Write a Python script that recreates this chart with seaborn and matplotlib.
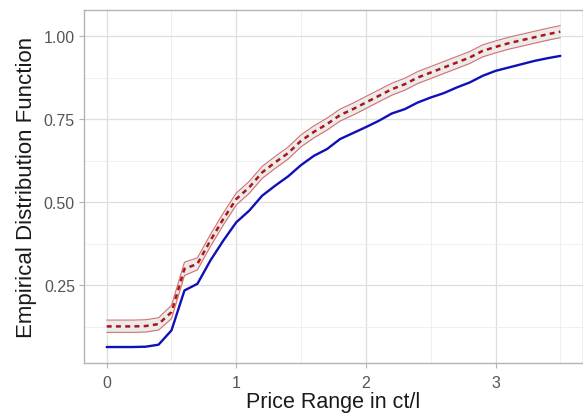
import numpy as np
import pandas as pd
import matplotlib
matplotlib.use("Agg")
import matplotlib.pyplot as plt
import seaborn as sns
from matplotlib.ticker import FixedLocator

price = [0.0, 0.1, 0.2, 0.3, 0.4, 0.5, 0.6, 0.7, 0.8, 0.9,
         1.0, 1.1, 1.2, 1.3, 1.4, 1.5, 1.6, 1.7, 1.8, 1.9,
         2.0, 2.1, 2.2, 2.3, 2.4, 2.5, 2.6, 2.7, 2.8, 2.9,
         3.0, 3.1, 3.2, 3.3, 3.4, 3.5]
ecdf_obs = [0.065, 0.065, 0.065, 0.066, 0.072, 0.115, 0.235, 0.255, 0.325, 0.385,
            0.44, 0.475, 0.52, 0.55, 0.578, 0.612, 0.64, 0.66, 0.69, 0.708,
            0.726, 0.745, 0.767, 0.78, 0.80, 0.815, 0.828, 0.845, 0.86, 0.88,
            0.895, 0.905, 0.915, 0.925, 0.933, 0.94]
ecdf_sim = [0.127, 0.127, 0.127, 0.128, 0.134, 0.17, 0.30, 0.315, 0.385, 0.45,
            0.51, 0.545, 0.59, 0.62, 0.648, 0.685, 0.712, 0.735, 0.762, 0.78,
            0.80, 0.82, 0.84, 0.855, 0.875, 0.89, 0.905, 0.92, 0.935, 0.955,
            0.967, 0.978, 0.987, 0.996, 1.005, 1.013]
sim_lower = [0.109, 0.109, 0.109, 0.110, 0.116, 0.150, 0.280, 0.297, 0.367, 0.432,
             0.492, 0.527, 0.572, 0.602, 0.630, 0.667, 0.694, 0.717, 0.744, 0.762,
             0.782, 0.802, 0.822, 0.837, 0.857, 0.872, 0.887, 0.902, 0.917, 0.937,
             0.949, 0.960, 0.969, 0.978, 0.987, 0.995]
sim_upper = [0.146, 0.146, 0.146, 0.147, 0.153, 0.190, 0.320, 0.333, 0.403, 0.468,
             0.528, 0.563, 0.608, 0.638, 0.666, 0.703, 0.730, 0.753, 0.780, 0.798,
             0.818, 0.838, 0.858, 0.873, 0.893, 0.908, 0.923, 0.938, 0.953, 0.973,
             0.985, 0.996, 1.005, 1.014, 1.023, 1.031]
x_ticks = [0, 1, 2, 3]
y_ticks = [0.25, 0.50, 0.75, 1.00]
y_tick_labels = ["0.25", "0.50", "0.75", "1.00"]

df = pd.DataFrame({"price": price, "obs": ecdf_obs, "sim": ecdf_sim,
                   "lo": sim_lower, "hi": sim_upper})

sns.set_theme(style="white")
plt.rcParams["font.family"] = ["Liberation Sans", "DejaVu Sans"]

fig = plt.figure(figsize=(5.83, 4.14), dpi=100)
ax = fig.add_axes([84 / 583, 1 - 364 / 414, (583 - 84) / 583, (364 - 11) / 414])

ax.fill_between(df["price"], df["lo"], df["hi"], color="#EBEBEB", zorder=2, linewidth=0)
sns.lineplot(data=df, x="price", y="lo", ax=ax, color="#D27070", linewidth=0.8, zorder=3)
sns.lineplot(data=df, x="price", y="hi", ax=ax, color="#D27070", linewidth=0.8, zorder=3)
sns.lineplot(data=df, x="price", y="sim", ax=ax, color="#B01515", linewidth=1.8,
             linestyle=(0, (2.0, 1.7)), zorder=4)
sns.lineplot(data=df, x="price", y="obs", ax=ax, color="#1010B8", linewidth=1.7, zorder=4)

ax.set_xlim(-0.175, 3.675)
ax.set_ylim(0.017, 1.078)
ax.xaxis.set_major_locator(FixedLocator(x_ticks))
ax.xaxis.set_minor_locator(FixedLocator([0.5, 1.5, 2.5, 3.5]))
ax.yaxis.set_major_locator(FixedLocator(y_ticks))
ax.yaxis.set_minor_locator(FixedLocator([0.125, 0.375, 0.625, 0.875]))
ax.set_yticklabels(y_tick_labels)
ax.grid(which="major", color="#DEDEDE", linewidth=0.9, zorder=0)
ax.grid(which="minor", color="#EDEDED", linewidth=0.6, zorder=0)
ax.set_axisbelow(True)
for s in ax.spines.values():
    s.set_color("#B3B3B3")
    s.set_linewidth(1.0)
ax.tick_params(axis="both", which="major", length=3.5, width=0.8, color="#B3B3B3",
               labelcolor="#555555", labelsize=11.5, pad=3, bottom=True, left=True)
ax.tick_params(axis="x", which="major", pad=5)
ax.tick_params(axis="both", which="minor", length=0)
ax.set_xlabel("Price Range in ct/l", fontsize=15.5, color="#1A1A1A", labelpad=1)
ax.set_ylabel("Empirical Distribution Function", fontsize=16, color="#1A1A1A", labelpad=5)

fig.savefig("out.png", dpi=100)
